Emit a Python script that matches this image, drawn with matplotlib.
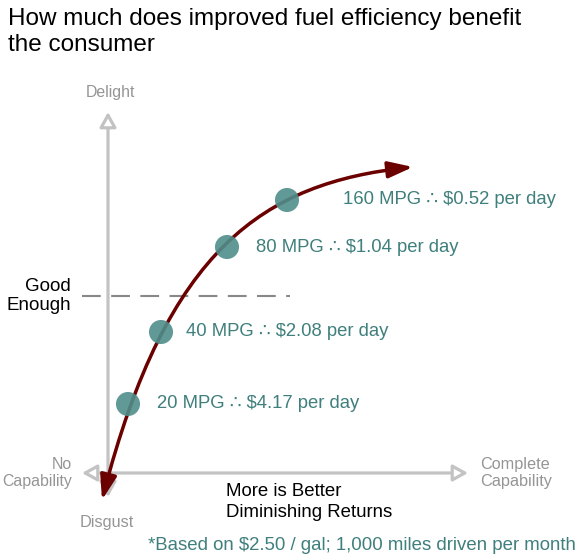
import matplotlib.pyplot as plt
from matplotlib.patches import FancyArrowPatch
from matplotlib.path import Path

# data: capability (x) vs delight (y), origin at the axis crossing
mpg_labels = ["20 MPG ∴ $4.17 per day", "40 MPG ∴ $2.08 per day",
              "80 MPG ∴ $1.04 per day", "160 MPG ∴ $0.52 per day"]
mpg_x = [20, 53, 119, 179]
mpg_y = [69, 141, 226, 273]
label_gap = [29, 25, 29, 56]

# cubic bezier control points of the "diminishing returns" curve
curve_x = [-6, 59, 156, 305]
curve_y = [-27, 225, 290, 306]

good_enough_y = 177
good_enough_x = [-26, 182]

x_axis_ends = [-26, 360]
y_axis_ends = [-24, 361]

TEAL = "#3f7f7c"
DOT = "#4f8e8b"
RED = "#6b0000"
GREY_AX = "#c3c3c3"
GREY_TXT = "#959595"
FONT = ["Liberation Sans", "DejaVu Sans"]

plt.rcParams["font.family"] = FONT

fig = plt.figure(figsize=(5.78, 5.58), dpi=100)
ax = fig.add_axes([0, 0, 1, 1])
ax.set_xlim(-108, 470)
ax.set_ylim(-85, 473)
ax.axis("off")

# axes arrows (open heads)
ax_style = "<|-|>,head_length=9,head_width=5"
ax.add_patch(FancyArrowPatch((x_axis_ends[0], 0), (x_axis_ends[1], 0),
                             arrowstyle=ax_style, mutation_scale=1,
                             lw=2.3, ec=GREY_AX, fc="white",
                             shrinkA=0, shrinkB=0, zorder=2))
ax.add_patch(FancyArrowPatch((0, y_axis_ends[0]), (0, y_axis_ends[1]),
                             arrowstyle=ax_style, mutation_scale=1,
                             lw=2.3, ec=GREY_AX, fc="white",
                             shrinkA=0, shrinkB=0, zorder=2))

# good enough threshold
ax.plot(good_enough_x, [good_enough_y] * 2, color="#888888", lw=1.5,
        dashes=(9, 5), zorder=2)

# the curve
curve = Path(list(zip(curve_x, curve_y)),
             [Path.MOVETO, Path.CURVE4, Path.CURVE4, Path.CURVE4])
ax.add_patch(FancyArrowPatch(path=curve,
                             arrowstyle="<|-|>,head_length=15,head_width=5",
                             mutation_scale=1, lw=2.5, color=RED, zorder=3))

# points
ax.scatter(mpg_x, mpg_y, s=300, color=DOT, alpha=0.9, edgecolors="none", zorder=4)
for x, y, lab, gap in zip(mpg_x, mpg_y, mpg_labels, label_gap):
    ax.text(x + gap, y, lab, color=TEAL, fontsize=13.3, va="center", ha="left")

# labels
fig.text(0.014, 0.985, "How much does improved fuel efficiency benefit\nthe consumer",
         fontsize=17.5, va="top", ha="left", linespacing=1.22)
ax.text(2, 380, "Delight", color=GREY_TXT, fontsize=11.4, ha="center", va="center")
ax.text(-37, good_enough_y, "Good\nEnough", fontsize=13.5, ha="right", va="center",
        linespacing=1.2)
ax.text(-36, 0, "No\nCapability", color=GREY_TXT, fontsize=11.4, ha="right",
        va="center", linespacing=1.2)
ax.text(372, 0, "Complete\nCapability", color=GREY_TXT, fontsize=11.7, ha="left",
        va="center", linespacing=1.2)
ax.text(-1, -49, "Disgust", color=GREY_TXT, fontsize=11.7, ha="center", va="center")
ax.text(118, -29, "More is Better\nDiminishing Returns", fontsize=13.4, ha="left",
        va="center", linespacing=1.28)
ax.text(40, -72, "*Based on $2.50 / gal; 1,000 miles driven per month",
        color=TEAL, fontsize=13.4, ha="left", va="center")

fig.savefig("out.png", dpi=100)
